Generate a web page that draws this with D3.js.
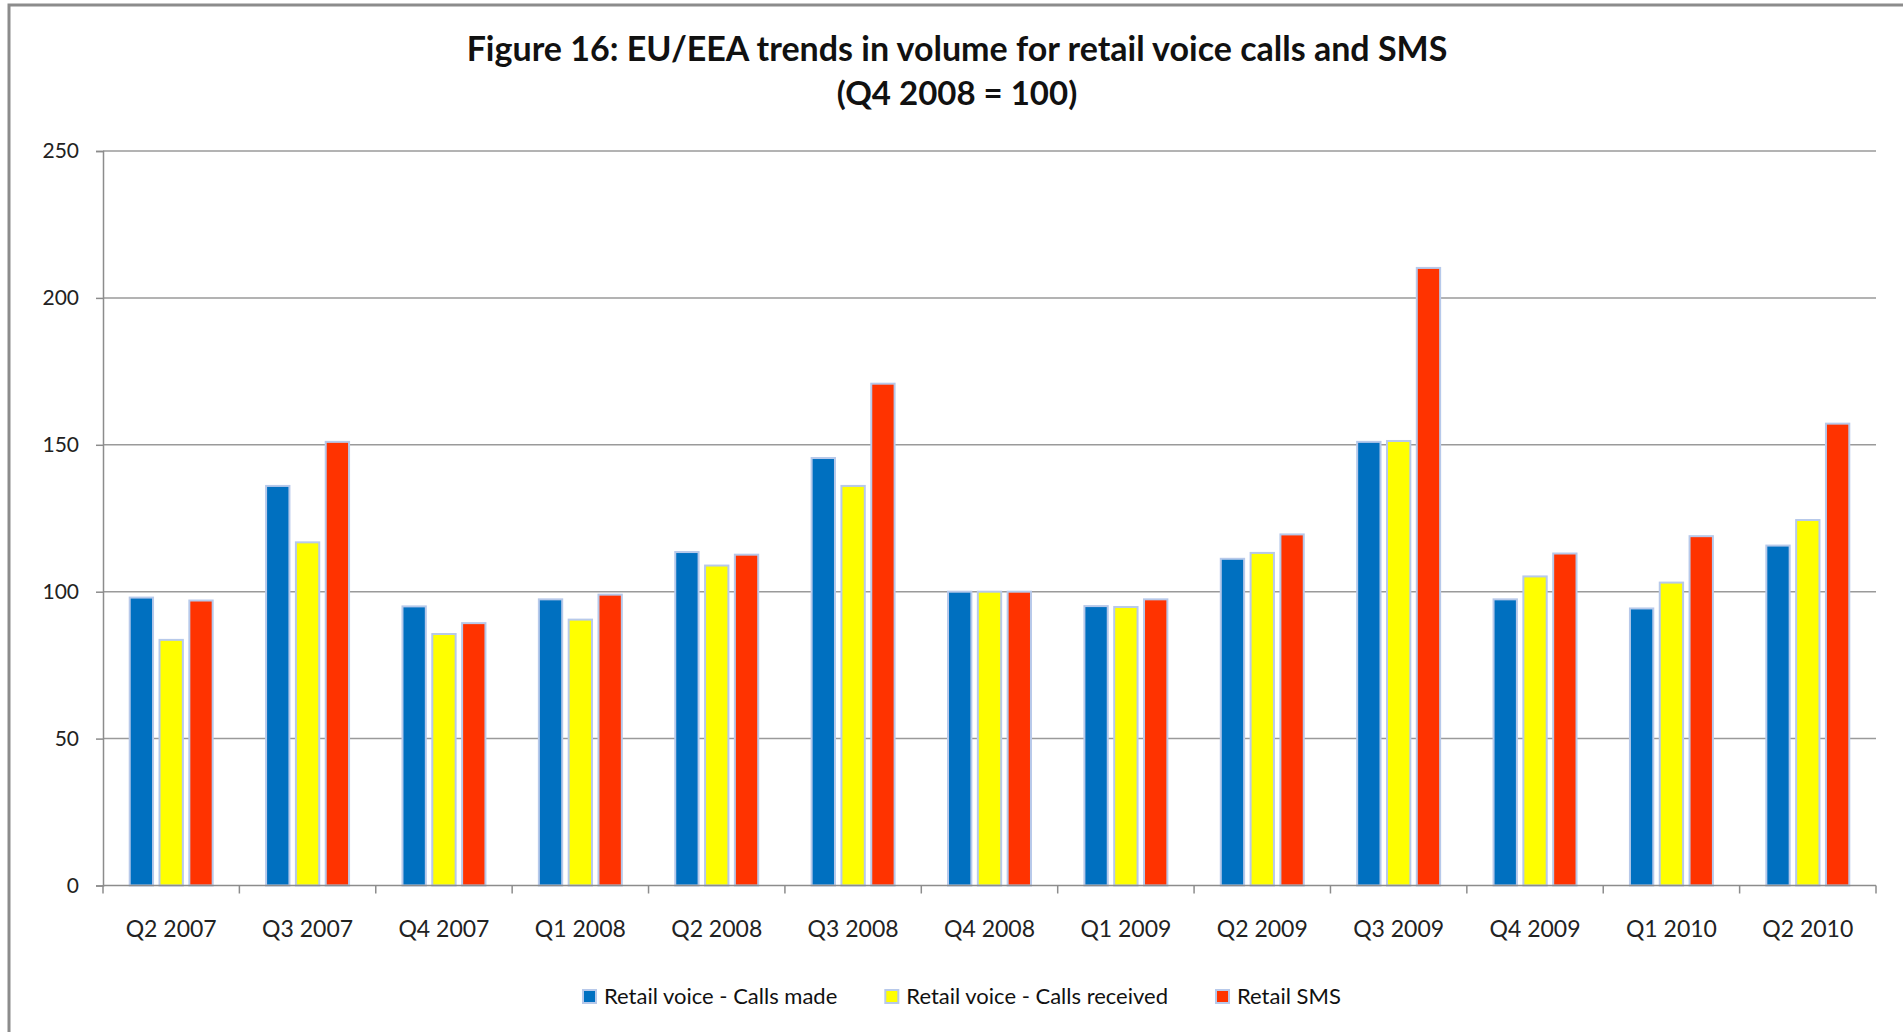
<!DOCTYPE html>
<html>
<head>
<meta charset="utf-8">
<script src="https://cdn.jsdelivr.net/npm/d3@7"></script>
<style>
  html, body { margin: 0; padding: 0; background: #fff; overflow: hidden; }
  svg { display: block; font-family: Lato, "Open Sans", sans-serif; }
</style>
</head>
<body>
<svg id="chart"></svg>
<script>
// data
const quarters = ["Q2 2007", "Q3 2007", "Q4 2007", "Q1 2008", "Q2 2008", "Q3 2008", "Q4 2008",
  "Q1 2009", "Q2 2009", "Q3 2009", "Q4 2009", "Q1 2010", "Q2 2010"];
const seriesNames = ["Retail voice - Calls made", "Retail voice - Calls received", "Retail SMS"];
const callsMade = [98, 136, 95, 97.4, 113.5, 145.5, 100, 95.1, 111.2, 151, 97.4, 94.3, 115.7];
const callsReceived = [83.6, 116.8, 85.6, 90.5, 108.9, 136, 100, 94.8, 113.2, 151.3, 105.2, 103.1, 124.4];
const sms = [97, 151, 89.3, 99, 112.6, 170.8, 100, 97.4, 119.5, 210.2, 113, 118.9, 157.2];
const yTicks = [0, 50, 100, 150, 200, 250];
const colors = ["#0070c0", "#ffff00", "#ff3300"];

const W = 1903, H = 1032;
const svg = d3.select("#chart").attr("width", W).attr("height", H);

// outer frame of the chart object
svg.append("rect")
  .attr("x", 9).attr("y", 5)
  .attr("width", W).attr("height", H)
  .attr("fill", "none")
  .attr("stroke", "#8c8c8c")
  .attr("stroke-width", 3);

const plotLeft = 103, plotRight = 1876, plotTop = 151, plotBottom = 885.5;

const x0 = d3.scaleBand()
  .domain(quarters)
  .range([plotLeft, plotRight])
  .paddingInner(0.377)
  .paddingOuter(0.1885);

const x1 = d3.scaleBand()
  .domain(seriesNames)
  .range([0, x0.bandwidth()])
  .paddingInner(0.15);

const y = d3.scaleLinear()
  .domain([0, 250])
  .range([plotBottom, plotTop]);

const color = d3.scaleOrdinal().domain(seriesNames).range(colors);

// gridlines
svg.append("g")
  .selectAll("line")
  .data(yTicks.filter(d => d > 0))
  .join("line")
  .attr("x1", plotLeft).attr("x2", plotRight)
  .attr("y1", d => y(d)).attr("y2", d => y(d))
  .attr("stroke", "#9a9a9a")
  .attr("stroke-width", 1.5);

// y axis
const yAxis = svg.append("g")
  .attr("transform", `translate(${plotLeft},0)`)
  .call(d3.axisLeft(y).tickValues(yTicks).tickSize(7).tickPadding(17));
yAxis.select(".domain").attr("stroke", "#8c8c8c").attr("stroke-width", 1.5);
yAxis.selectAll(".tick line").attr("stroke", "#8c8c8c").attr("stroke-width", 1.5);
yAxis.selectAll(".tick text")
  .attr("font-family", "Lato, 'Open Sans', sans-serif")
  .attr("font-size", 21)
  .attr("fill", "#222");

// bars
const table = quarters.map((q, i) => ({
  quarter: q,
  values: [callsMade[i], callsReceived[i], sms[i]].map((v, k) => ({ key: seriesNames[k], value: v }))
}));

svg.append("g")
  .selectAll("g")
  .data(table)
  .join("g")
  .attr("transform", d => `translate(${x0(d.quarter)},0)`)
  .selectAll("rect")
  .data(d => d.values)
  .join("rect")
  .attr("x", d => x1(d.key) + 1)
  .attr("width", x1.bandwidth() - 2)
  .attr("y", d => y(d.value))
  .attr("height", d => y(0) - y(d.value))
  .attr("fill", d => color(d.key))
  .attr("stroke", "#b7c9ea")
  .attr("stroke-width", 2);

// x axis with ticks between categories
const xg = svg.append("g");
xg.append("line")
  .attr("x1", plotLeft).attr("x2", plotRight)
  .attr("y1", plotBottom).attr("y2", plotBottom)
  .attr("stroke", "#8c8c8c").attr("stroke-width", 1.5);
const bounds = quarters.map(q => x0(q) - x0.step() * x0.paddingOuter()).concat([plotRight]);
xg.selectAll(".sep")
  .data(bounds)
  .join("line")
  .attr("class", "sep")
  .attr("x1", d => d).attr("x2", d => d)
  .attr("y1", plotBottom).attr("y2", plotBottom + 8)
  .attr("stroke", "#8c8c8c").attr("stroke-width", 1.5);
xg.selectAll("text")
  .data(quarters)
  .join("text")
  .attr("x", d => x0(d) + x0.bandwidth() / 2)
  .attr("y", 937)
  .attr("text-anchor", "middle")
  .attr("font-size", 23)
  .attr("fill", "#222")
  .text(d => d);

// title
const title = svg.append("g").attr("font-weight", "bold").attr("fill", "#111").attr("text-anchor", "middle");
title.append("text").attr("x", 957).attr("y", 61).attr("font-size", 34)
  .text("Figure 16: EU/EEA trends in volume for retail voice calls and SMS");
title.append("text").attr("x", 957).attr("y", 105).attr("font-size", 33)
  .text("(Q4 2008 = 100)");

// legend
const legend = svg.append("g");
let lx = 583;
seriesNames.forEach(name => {
  const item = legend.append("g").attr("transform", `translate(${lx},0)`);
  item.append("rect")
    .attr("x", 0).attr("y", 990)
    .attr("width", 13).attr("height", 13)
    .attr("fill", color(name))
    .attr("stroke", "#b7c9ea")
    .attr("stroke-width", 2);
  const t = item.append("text")
    .attr("x", 21).attr("y", 1004)
    .attr("font-size", 22)
    .attr("fill", "#111")
    .text(name);
  lx += 21 + t.node().getComputedTextLength() + 48;
});
</script>
</body>
</html>
